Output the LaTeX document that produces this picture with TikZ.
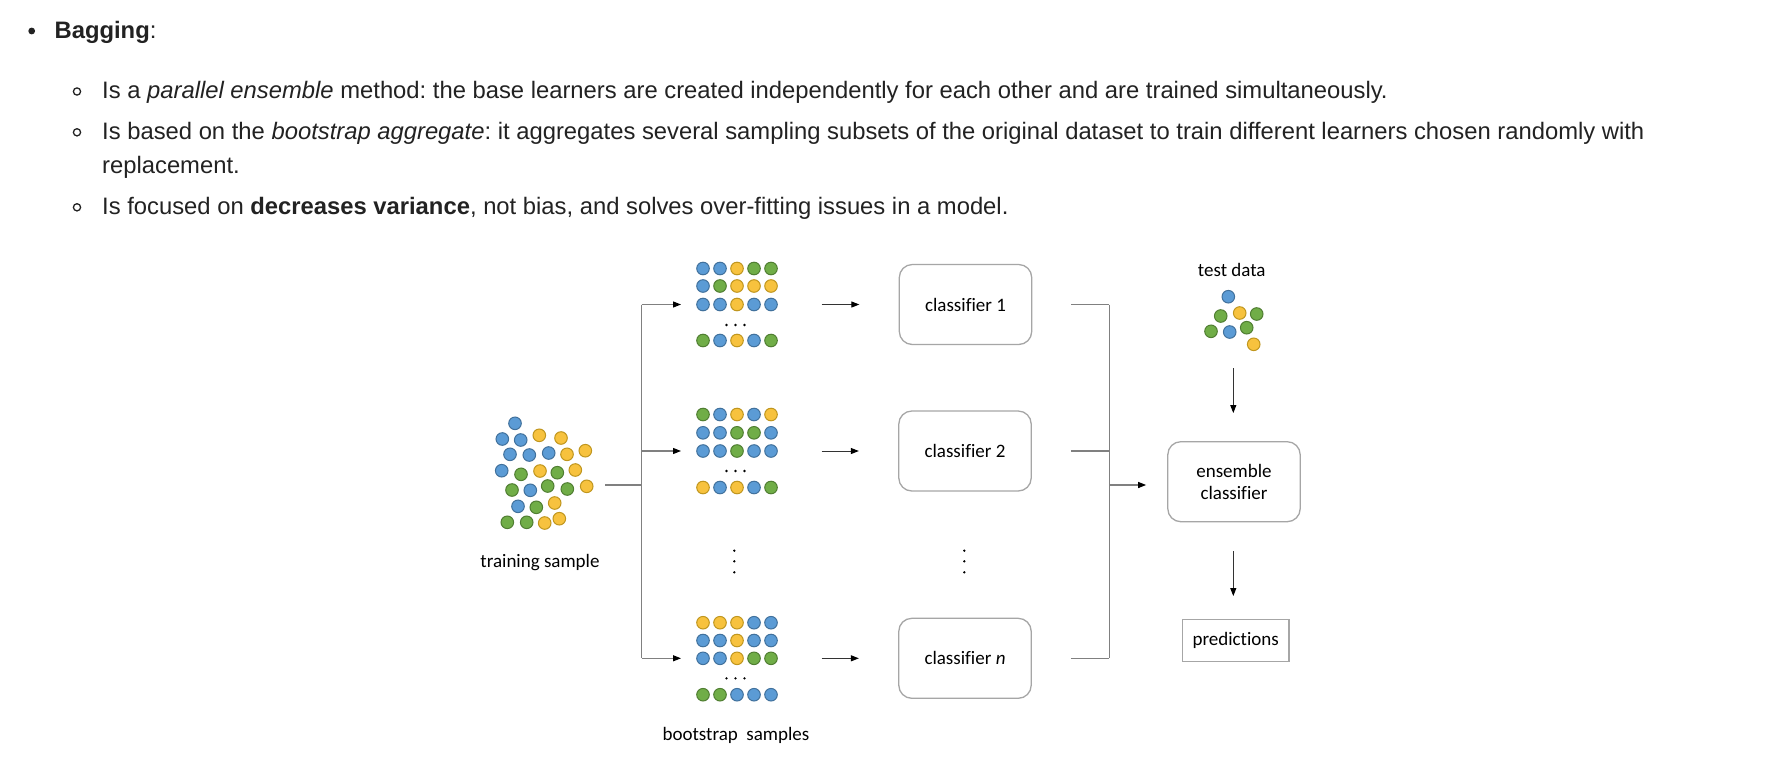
\documentclass[tikz,border=0pt]{standalone}
\usepackage{fontspec}
\setmainfont{Liberation Sans}
\newfontfamily\diagfont[Ligatures=NoCommon]{Carlito}
\usetikzlibrary{arrows.meta}
\frenchspacing

\definecolor{dotB}{HTML}{5B9BD5}
\definecolor{dotBd}{HTML}{41719C}
\definecolor{dotY}{HTML}{F7C23E}
\definecolor{dotYd}{HTML}{C0961E}
\definecolor{dotG}{HTML}{70AD47}
\definecolor{dotGd}{HTML}{507E32}
\definecolor{linegray}{HTML}{808080}
\definecolor{boxgray}{HTML}{A6A6A6}
\definecolor{bodytext}{HTML}{222222}

\tikzset{
  dot/.style={fill=dot#1, draw=dot#1d, line width=1pt},
  item/.style={anchor=base west, inner sep=0pt, text=bodytext,
    font=\fontsize{23.8}{28}\selectfont},
  label/.style={anchor=base, inner sep=0pt, font=\diagfont\fontsize{19}{21.6}\selectfont},
  clsbox/.style={draw=boxgray, line width=1.3pt, rounded corners=13pt,
    minimum width=132.4pt, minimum height=80pt, inner sep=0pt, align=center,
    font=\diagfont\fontsize{19}{21.6}\selectfont},
  predbox/.style={draw=boxgray, line width=1.3pt,
    minimum width=106.7pt, minimum height=42.4pt, inner sep=0pt,
    font=\diagfont\fontsize{19}{21.6}\selectfont},
  conn/.style={draw=linegray, line width=1.3pt},
  arr/.style={draw=linegray, line width=1.2pt, -{Triangle[length=8pt,width=6pt,color=black]}},
  darr/.style={draw=black!80, line width=1pt, -{Triangle[length=8pt,width=6pt,color=black]}}
}

% one row of a bootstrap sample: #1 = y, #2 = colour codes
\newcommand\dotrow[2]{%
  \foreach \c [count=\i from 0] in {#2} {\filldraw[dot=\c] ({703+17*\i},#1) circle[radius=6.3];}}
% the "..." between rows
\newcommand\hdots[1]{%
  \foreach \i in {0,1,2} {\fill ({726.5+9*\i},#1) circle[radius=1.3];}}

\begin{document}
\begin{tikzpicture}[x=1pt,y=-1pt]
\useasboundingbox (0,0) rectangle (1776,782);
\fill[white] (0,0) rectangle (1776,782);

% ---- bullet list ----
\fill[bodytext] (31.7,31) circle[radius=3.4];
\node[item] (head) at (54.4,38.5) {\textbf{Bagging}:};
\foreach \y in {91.5,132.3,207.3} \draw[bodytext, line width=1.3pt] (77,\y) circle[radius=3.6];
\node[item] (l1) at (102,98.5) {Is a \textit{parallel ensemble} method: the base learners are created independently for each other and are trained simultaneously.};
\node[item] (l2) at (102,139.3) {Is based on the \textit{bootstrap aggregate}: it aggregates several sampling subsets of the original dataset to train different learners chosen randomly with};
\node[item] (l2b) at (102,173.3) {replacement.};
\node[item] (l3) at (102,214.3) {Is focused on \textbf{decreases variance}, not bias, and solves over-fitting issues in a model.};

% ---- training sample ----
\foreach \x/\y/\c in {515/423.3/B,
  502.3/439/B, 520.7/440/B, 539.3/435.3/Y, 561/438/Y,
  510/454.3/B, 529.3/455/B, 548.7/453/B, 567/454.3/Y, 585.3/450.7/Y,
  501.7/470.7/B, 521/474.3/G, 540/471/Y, 557.3/472.7/G, 575.3/470/Y,
  512/490/G, 530.3/490.3/B, 547.7/486/G, 567.3/489/G, 586.7/486.3/Y,
  518/506.3/B, 536.3/507.3/G, 554.7/503/Y,
  507.3/522.3/G, 526.7/522.3/G, 544.7/523/Y, 559.3/518.7/Y}
  \filldraw[dot=\c] (\x,\y) circle[radius=6.3];
\node[label] (train) at (540,567.7) {training sample};

% ---- bootstrap samples ----
\dotrow{268.5}{B,B,Y,G,G}
\dotrow{286}{B,G,Y,Y,Y}
\dotrow{304.5}{B,B,Y,B,B}
\hdots{325}
\dotrow{340.5}{G,B,Y,B,G}

\dotrow{414.5}{G,B,Y,B,Y}
\dotrow{432.8}{B,B,G,G,B}
\dotrow{451}{B,B,G,B,B}
\hdots{471}
\dotrow{487.5}{Y,B,Y,B,G}

\dotrow{622.7}{Y,Y,Y,B,B}
\dotrow{640.5}{B,B,Y,B,B}
\dotrow{658.3}{B,B,Y,G,G}
\hdots{678.3}
\dotrow{694.7}{G,G,B,B,B}

\foreach \x in {734.3,964.3} \foreach \y in {550.7,561.3,572.3} \fill (\x,\y) circle[radius=1.3];
\node[label] (boot) at (736,740) {bootstrap\ \ samples};

% ---- classifiers ----
\node[clsbox] (cls1) at (965.5,304.5) {classifier 1};
\node[clsbox] (cls2) at (965,451) {classifier 2};
\node[clsbox] (clsn) at (965,658.3) {classifier \textit{n}};
\node[clsbox] (ens) at (1234,481.7) {ensemble\\classifier};
\node[predbox] (pred) at (1235.7,640.5) {predictions};

% ---- test data ----
\node[label] (test) at (1231.7,276.7) {test data};
\foreach \x/\y/\c in {1228.3/296.7/B, 1220.7/316/G, 1239.7/313/Y, 1256.7/314/G,
  1211/331.3/G, 1229.7/332/B, 1246.7/327.7/G, 1253.7/344.3/Y}
  \filldraw[dot=\c] (\x,\y) circle[radius=6.3];

% ---- connector points ----
\coordinate (trainout) at (605,485);
\coordinate (hub) at (641.7,485);
\coordinate (fork1) at (641.7,304.5);
\coordinate (fork2) at (641.7,451);
\coordinate (forkn) at (641.7,658.3);
\coordinate (boot1) at (681,304.5);
\coordinate (boot2) at (681,451);
\coordinate (bootn) at (681,658.3);
\coordinate (grid1) at (821.7,304.5);
\coordinate (grid2) at (821.7,451);
\coordinate (gridn) at (821.7,658.3);
\coordinate (join1) at (1109.3,304.5);
\coordinate (join2) at (1109.3,451);
\coordinate (joinn) at (1109.3,658.3);
\coordinate (joinout) at (1109.3,485);
\coordinate (testout) at (1233.3,368);

% ---- connectors ----
\draw[conn] (trainout) -- (hub);
\draw[conn] (fork1) -- (forkn);
\draw[arr] (fork1) -- (boot1);
\draw[arr] (fork2) -- (boot2);
\draw[arr] (forkn) -- (bootn);
\draw[darr, shorten >=39.3pt] (grid1) -- (grid1 -| cls1.west);
\draw[darr, shorten >=39.3pt] (grid2) -- (grid2 -| cls2.west);
\draw[darr, shorten >=39.3pt] (gridn) -- (gridn -| clsn.west);
\draw[conn, shorten <=39pt] (cls1.east) -- (join1);
\draw[conn, shorten <=39pt] (cls2.east) -- (join2);
\draw[conn, shorten <=39pt] (clsn.east) -- (joinn);
\draw[conn] (join1) -- (joinn);
\draw[arr, shorten >=21pt] (joinout) -- (joinout -| ens.west);
\draw[darr, shorten >=28pt] (testout) -- (testout |- ens.north);
\draw[darr, shorten <=29pt, shorten >=22.6pt] (ens.south -| testout) -- (pred.north -| testout);
\end{tikzpicture}
\end{document}
